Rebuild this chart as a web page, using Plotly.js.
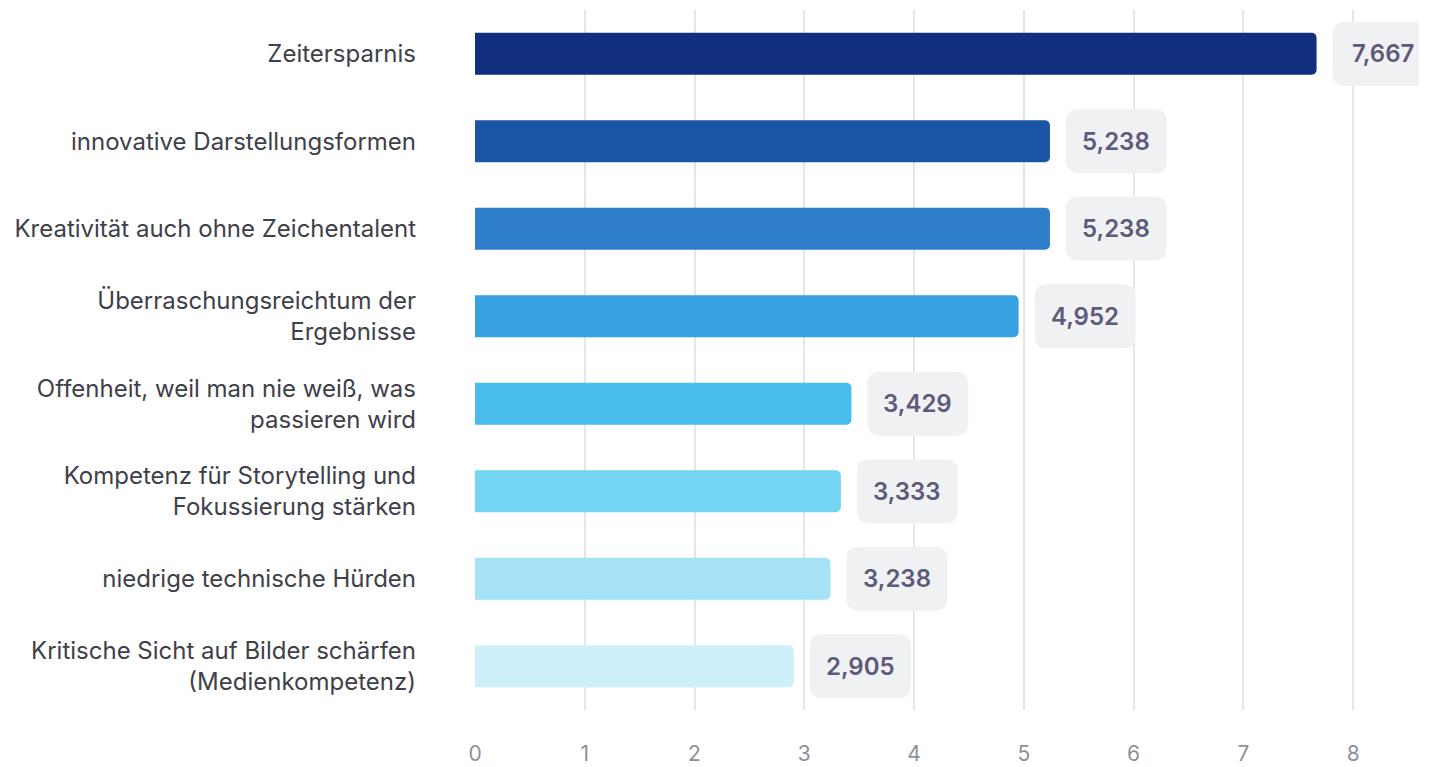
<!DOCTYPE html>
<html><head><meta charset="utf-8">
<script src="https://cdn.plot.ly/plotly-3.0.1.min.js"></script>
<style>html,body{margin:0;padding:0;background:#fff}#chart{width:1431px;height:767px}</style>
</head><body><div id="chart"></div>
<script>
const categories = [
  "Zeitersparnis",
  "innovative Darstellungsformen",
  "Kreativität auch ohne Zeichentalent",
  "Überraschungsreichtum der<br>Ergebnisse",
  "Offenheit, weil man nie weiß, was<br>passieren wird",
  "Kompetenz für Storytelling und<br>Fokussierung stärken",
  "niedrige technische Hürden",
  "Kritische Sicht auf Bilder schärfen<br>(Medienkompetenz)"
];
const values = [7.667, 5.238, 5.238, 4.952, 3.429, 3.333, 3.238, 2.905];
const valueLabels = ["7,667", "5,238", "5,238", "4,952", "3,429", "3,333", "3,238", "2,905"];
const barColors = ["#112e7f", "#1b55a6", "#2e7ec9", "#36a0e0", "#48bceb", "#74d4f3", "#a6e2f6", "#cdf0fa"];
const xTicks = [0, 1, 2, 3, 4, 5, 6, 7, 8];

const FONT = "Inter, 'Noto Sans', sans-serif";

const trace = {
  type: "bar",
  orientation: "h",
  x: values,
  y: categories,
  marker: { color: barColors, cornerradius: 5, line: { width: 0 } },
  hoverinfo: "none",
  cliponaxis: false
};

// rounded label boxes anchored at the bar ends (pixel-sized, data-anchored)
function roundRect(x0, y0, w, h, r) {
  return `M ${x0 + r} ${y0} L ${x0 + w - r} ${y0} Q ${x0 + w} ${y0} ${x0 + w} ${y0 + r} ` +
         `L ${x0 + w} ${y0 + h - r} Q ${x0 + w} ${y0 + h} ${x0 + w - r} ${y0 + h} ` +
         `L ${x0 + r} ${y0 + h} Q ${x0} ${y0 + h} ${x0} ${y0 + h - r} ` +
         `L ${x0} ${y0 + r} Q ${x0} ${y0} ${x0 + r} ${y0} Z`;
}
const shapes = values.map((v, i) => ({
  type: "path",
  xref: "x", yref: "y",
  xsizemode: "pixel", ysizemode: "pixel",
  xanchor: v, yanchor: i,
  path: roundRect(16, -32, 101, 64, 13),
  fillcolor: "#f0f1f2",
  line: { width: 0 },
  layer: "above"
}));
const annotations = values.map((v, i) => ({
  x: v, y: categories[i], xref: "x", yref: "y",
  text: valueLabels[i],
  showarrow: false,
  xanchor: "center", yanchor: "middle",
  xshift: 66.5,
  font: { family: FONT, size: 24, weight: 600, color: "#5b5b7b" }
}));

const layout = {
  width: 1431, height: 767,
  margin: { l: 475, r: 12, t: 10, b: 57 },
  paper_bgcolor: "#ffffff",
  plot_bgcolor: "#ffffff",
  showlegend: false,
  bargap: 0.52,
  font: { family: FONT },
  xaxis: {
    range: [0, 8.6],
    tickvals: xTicks,
    ticktext: xTicks.map(String),
    showgrid: true,
    gridcolor: "#e6e6e6",
    gridwidth: 2,
    zeroline: false,
    showline: false,
    ticks: "",
    ticklabelstandoff: 29,
    tickfont: { family: FONT, size: 21, color: "#8c9199" },
    fixedrange: true
  },
  yaxis: {
    autorange: "reversed",
    type: "category",
    showgrid: false,
    zeroline: false,
    showline: false,
    ticks: "",
    ticklabelstandoff: 58,
    tickfont: { family: FONT, size: 24, color: "#404049" },
    fixedrange: true
  },
  shapes: shapes,
  annotations: annotations
};

Plotly.newPlot("chart", [trace], layout, { displayModeBar: false, staticPlot: true });
</script>
</body></html>
